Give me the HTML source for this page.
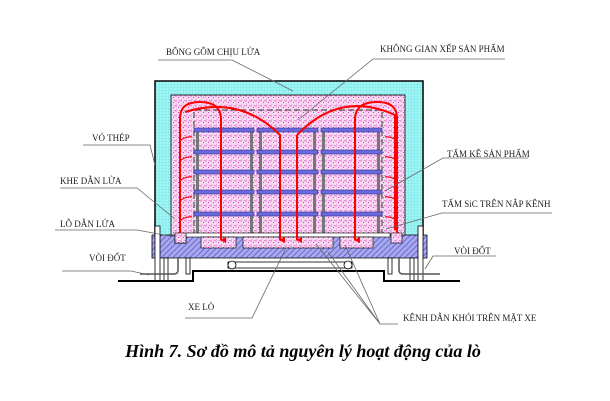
<!DOCTYPE html>
<html><head><meta charset="utf-8"><style>
body{margin:0;background:#fff;width:610px;height:401px;overflow:hidden}
svg{display:block}
text{font-family:"Liberation Serif",serif;font-size:9px;fill:#222}
</style></head><body>
<svg width="610" height="401" viewBox="0 0 610 401" xmlns="http://www.w3.org/2000/svg">
<defs>
<pattern id="cy" width="3" height="3" patternUnits="userSpaceOnUse"><rect width="3" height="3" fill="#9ff4f4"/><path d="M0 0H3M0 0V3" stroke="#66dce0" stroke-width="0.5"/></pattern>
<pattern id="pk" width="5" height="5" patternUnits="userSpaceOnUse"><rect width="5" height="5" fill="#f8dcf2"/><circle cx="1" cy="1" r=".7" fill="#e050c8"/><circle cx="3.5" cy="2.5" r=".6" fill="#d040c0"/><circle cx="1.8" cy="4.2" r=".5" fill="#e878d8"/><circle cx="4.3" cy="0.4" r=".5" fill="#c848b8"/></pattern>
<pattern id="bl" width="4" height="4" patternUnits="userSpaceOnUse" patternTransform="rotate(45)"><rect width="4" height="4" fill="#a8a8ee"/><path d="M0 0V4" stroke="#5050c8" stroke-width="1.4"/></pattern>
<marker id="ar" markerWidth="6" markerHeight="6" refX="3" refY="5" orient="auto" markerUnits="userSpaceOnUse"><path d="M0 0L3 6L6 0Z" fill="#f00"/></marker>
</defs>
<rect x="155" y="81" width="268" height="157" fill="url(#cy)" stroke="#000" stroke-width="1.5"/>
<rect x="171" y="95" width="234" height="143" fill="url(#pk)" stroke="#000" stroke-width="0.8"/>
<path d="M194 235V110H382V235" fill="none" stroke="#555" stroke-width="1.2" stroke-dasharray="6,3"/>
<g fill="#777">
<rect x="196" y="128" width="3" height="108"/><rect x="250" y="128" width="3" height="108"/>
<rect x="259" y="128" width="3" height="108"/><rect x="313" y="128" width="3" height="108"/>
<rect x="322" y="128" width="3" height="108"/><rect x="377" y="128" width="3" height="108"/>
</g>
<g fill="#6a6ad8" stroke="#3030a0" stroke-width="0.6">
<rect x="194" y="128" width="60" height="4"/><rect x="257" y="128" width="61" height="4"/><rect x="321" y="128" width="61" height="4"/>
<rect x="194" y="150" width="60" height="4"/><rect x="257" y="150" width="61" height="4"/><rect x="321" y="150" width="61" height="4"/>
<rect x="194" y="170" width="60" height="4"/><rect x="257" y="170" width="61" height="4"/><rect x="321" y="170" width="61" height="4"/>
<rect x="194" y="190" width="60" height="4"/><rect x="257" y="190" width="61" height="4"/><rect x="321" y="190" width="61" height="4"/>
<rect x="194" y="212" width="60" height="4"/><rect x="257" y="212" width="61" height="4"/><rect x="321" y="212" width="61" height="4"/>
</g>
<path d="M152 235H175V243H186V235H427V258H152Z" fill="url(#bl)" stroke="#000" stroke-width="0.8"/>
<rect x="186" y="233" width="204" height="4" fill="#fff" stroke="#000" stroke-width="0.6"/>
<g fill="url(#pk)" stroke="#000" stroke-width="0.6">
<rect x="201" y="237" width="35" height="11"/><rect x="243" y="237" width="90" height="11"/><rect x="340" y="237" width="33" height="11"/>
<rect x="175" y="233" width="11" height="10"/><rect x="391" y="233" width="11" height="10"/>
</g>
<g fill="none" stroke="#f00" stroke-width="2">
<path d="M180 233V118Q180 102 200 102Q220 102 221 118V240" marker-end="url(#ar)"/>
<path d="M185 112Q240 95 280 135V240" marker-end="url(#ar)"/>
<path d="M297 135Q340 90 395 115V230"/>
<path d="M297 135V240" marker-end="url(#ar)"/>
<path d="M397 233V118Q397 102 377 102Q356 102 355 118V240" marker-end="url(#ar)"/>
</g>
<g fill="none" stroke="#f00" stroke-width="1.2">
<path d="M181 140q6-4 11-3M181 160q6-4 11-3M181 180q6-4 11-3M181 200q6-4 11-3M181 220q6-4 11-3"/>
<path d="M396 140q-6-4-11-3M396 160q-6-4-11-3M396 180q-6-4-11-3M396 200q-6-4-11-3M396 220q-6-4-11-3"/>
</g>
<g fill="#fff" stroke="#000" stroke-width="0.8">
<rect x="155" y="226" width="5" height="55"/><rect x="418" y="226" width="5" height="55"/>
<rect x="164" y="258" width="4" height="23"/><rect x="186" y="258" width="4" height="16"/>
<rect x="388" y="258" width="4" height="16"/><rect x="410" y="258" width="4" height="23"/>
<rect x="228" y="262" width="124" height="6"/>
<circle cx="232" cy="265" r="4"/><circle cx="348" cy="265" r="4"/>
</g>
<path d="M178 258V270Q178 274 174 274H140M399 258V270Q399 274 403 274H440" fill="none" stroke="#555" stroke-width="1.5"/>
<path d="M118 281H193V271H384V281H460" fill="none" stroke="#000" stroke-width="2"/>
<g stroke="#666" stroke-width="0.8" fill="none">
<path d="M158 60H232L293 91"/>
<path d="M505 59H373L298 120"/>
<path d="M83 145H150L155 165"/>
<path d="M60 188H137L175 219"/>
<path d="M55 230H137L175 237"/>
<path d="M62 271H131L149 275"/>
<path d="M528 158H443L385 191"/>
<path d="M552 213H442L386 229"/>
<path d="M496 256H433L425 269"/>
<path d="M185 318H252L286 248"/>
<path d="M398 324H380L316 244M380 324L345 245M380 324L328 252"/>
</g>
<text x="166" y="55">BÔNG GÔM CHỊU LỬA</text>
<text x="380" y="52">KHÔNG GIAN XẾP SẢN PHẨM</text>
<text x="92" y="141">VỎ THÉP</text>
<text x="60" y="184">KHE DẪN LỬA</text>
<text x="60" y="227">LỖ DẪN LỬA</text>
<text x="89" y="261">VÒI ĐỐT</text>
<text x="447" y="157">TẤM KÊ SẢN PHẨM</text>
<text x="442" y="207">TẤM SiC TRÊN NẮP KÊNH</text>
<text x="454" y="254">VÒI ĐỐT</text>
<text x="188" y="310">XE LÒ</text>
<text x="403" y="321">KÊNH DẪN KHÓI TRÊN MẶT XE</text>
<text x="303" y="357" text-anchor="middle" style="font-size:18px;font-weight:bold;font-style:italic;fill:#000">Hình 7. Sơ đồ mô tả nguyên lý hoạt động của lò</text>
</svg>
</body></html>
